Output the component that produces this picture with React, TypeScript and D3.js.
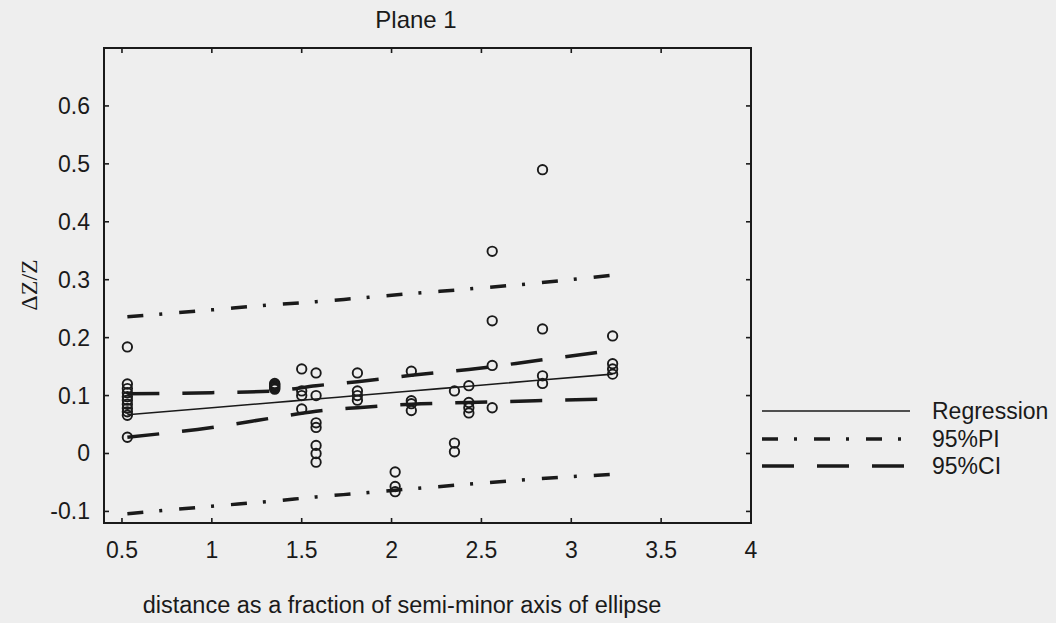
import React from "react";
import * as d3 from "d3";

// ---- data ----
const pointX: number[] = [
  0.53, 0.53, 0.53, 0.53, 0.53, 0.53, 0.53, 0.53, 0.53, 0.53, 0.53,
  1.35, 1.35, 1.35, 1.35, 1.35, 1.35,
  1.5, 1.5, 1.5, 1.5,
  1.58, 1.58, 1.58, 1.58, 1.58, 1.58, 1.58,
  1.81, 1.81, 1.81, 1.81,
  2.02, 2.02, 2.02,
  2.11, 2.11, 2.11, 2.11,
  2.35, 2.35, 2.35,
  2.43, 2.43, 2.43, 2.43,
  2.56, 2.56, 2.56, 2.56,
  2.84, 2.84, 2.84, 2.84,
  3.23, 3.23, 3.23, 3.23,
];
const pointY: number[] = [
  0.184, 0.12, 0.112, 0.105, 0.098, 0.092, 0.085, 0.078, 0.072, 0.066, 0.028,
  0.121, 0.119, 0.117, 0.115, 0.113, 0.111,
  0.146, 0.108, 0.1, 0.077,
  0.139, 0.1, 0.053, 0.045, 0.014, 0.0, -0.015,
  0.139, 0.108, 0.1, 0.092,
  -0.032, -0.057, -0.066,
  0.142, 0.091, 0.086, 0.074,
  0.108, 0.018, 0.003,
  0.117, 0.088, 0.079, 0.07,
  0.349, 0.229, 0.152, 0.079,
  0.49, 0.215, 0.134, 0.121,
  0.203, 0.155, 0.146, 0.137,
];

const lineX: number[] = [0.53, 1.0, 1.35, 1.58, 1.81, 2.11, 2.43, 2.8, 3.23];
const regression: number[] = [0.067, 0.079, 0.088, 0.094, 0.1, 0.108, 0.116, 0.126, 0.137];
const ciUpper: number[] = [0.103, 0.105, 0.108, 0.117, 0.124, 0.135, 0.145, 0.16, 0.178];
const ciLower: number[] = [0.028, 0.045, 0.062, 0.073, 0.079, 0.085, 0.088, 0.091, 0.094];
const piUpper: number[] = [0.236, 0.248, 0.257, 0.262, 0.268, 0.276, 0.284, 0.294, 0.308];
const piLower: number[] = [-0.104, -0.091, -0.082, -0.075, -0.069, -0.061, -0.053, -0.044, -0.036];

const xTicks: number[] = [0.5, 1, 1.5, 2, 2.5, 3, 3.5, 4];
const yTicks: number[] = [-0.1, 0, 0.1, 0.2, 0.3, 0.4, 0.5, 0.6];
const legendLabels: string[] = ["Regression", "95%PI", "95%CI"];

const W = 1056;
const H = 623;
const left = 104, right = 751, top = 48, bottom = 523;

export default function App() {
  const x = d3.scaleLinear().domain([0.4, 4]).range([left, right]);
  const y = d3.scaleLinear().domain([-0.12, 0.7]).range([bottom, top]);
  const line = d3
    .line<[number, number]>()
    .x((d) => x(d[0]))
    .y((d) => y(d[1]))
    .curve(d3.curveMonotoneX);
  const mk = (vals: number[]) => line(lineX.map((v, i) => [v, vals[i]] as [number, number])) || "";

  const font = "'Liberation Sans', Arial, sans-serif";
  const ink = "#1a1a1a";
  const piDash = "16 16 3 17";
  const ciDash = "32 23";
  const tick = 5;
  const legY = [411, 439, 466];
  const legStyles = [
    { w: 1.6, dash: undefined as string | undefined },
    { w: 3.5, dash: piDash },
    { w: 3.5, dash: ciDash },
  ];

  return (
    <svg
      width={W}
      height={H}
      style={{ position: "absolute", left: 0, top: 0, background: "#eeeeee" }}
    >
      <rect x={0} y={0} width={W} height={H} fill="#eeeeee" />
      {/* frame */}
      <rect x={left} y={top} width={right - left} height={bottom - top} fill="none" stroke={ink} strokeWidth={2} />
      {/* ticks */}
      {xTicks.map((t) => (
        <g key={"xt" + t}>
          <line x1={x(t)} x2={x(t)} y1={bottom} y2={bottom - tick} stroke={ink} strokeWidth={1.6} />
          <line x1={x(t)} x2={x(t)} y1={top} y2={top + tick} stroke={ink} strokeWidth={1.6} />
          <text x={x(t)} y={558} textAnchor="middle" fontFamily={font} fontSize={23} fill={ink}>
            {String(t)}
          </text>
        </g>
      ))}
      {yTicks.map((t) => (
        <g key={"yt" + t}>
          <line x1={left} x2={left + tick} y1={y(t)} y2={y(t)} stroke={ink} strokeWidth={1.6} />
          <line x1={right} x2={right - tick} y1={y(t)} y2={y(t)} stroke={ink} strokeWidth={1.6} />
          <text x={90} y={y(t) + 8} textAnchor="end" fontFamily={font} fontSize={23} fill={ink}>
            {String(Math.round(t * 10) / 10)}
          </text>
        </g>
      ))}
      {/* lines */}
      <path d={mk(piUpper)} fill="none" stroke={ink} strokeWidth={3.5} strokeDasharray={piDash} />
      <path d={mk(piLower)} fill="none" stroke={ink} strokeWidth={3.5} strokeDasharray={piDash} />
      <path d={mk(ciUpper)} fill="none" stroke={ink} strokeWidth={3.5} strokeDasharray={ciDash} />
      <path d={mk(ciLower)} fill="none" stroke={ink} strokeWidth={3.5} strokeDasharray={ciDash} />
      <path d={mk(regression)} fill="none" stroke={ink} strokeWidth={1.6} />
      {/* points */}
      {pointX.map((px, i) => (
        <circle key={"p" + i} cx={x(px)} cy={y(pointY[i])} r={4.7} fill="none" stroke={ink} strokeWidth={1.9} />
      ))}
      {/* title & labels */}
      <text x={416} y={28} textAnchor="middle" fontFamily={font} fontSize={24} fill={ink}>
        Plane 1
      </text>
      <text x={402} y={613} textAnchor="middle" fontFamily={font} fontSize={23.5} fill={ink}>
        distance as a fraction of semi-minor axis of ellipse
      </text>
      <text
        transform="translate(37,285) rotate(-90)"
        textAnchor="middle"
        fontFamily="'Liberation Serif', 'Times New Roman', serif"
        fontSize={24}
        fill={ink}
      >
        ΔZ/Z
      </text>
      {/* legend */}
      {legendLabels.map((lab, i) => (
        <g key={lab}>
          <line
            x1={762}
            x2={910}
            y1={legY[i]}
            y2={legY[i]}
            stroke={ink}
            strokeWidth={legStyles[i].w}
            strokeDasharray={legStyles[i].dash}
          />
          <text x={932} y={legY[i] + 8} fontFamily={font} fontSize={23} fill={ink}>
            {lab}
          </text>
        </g>
      ))}
    </svg>
  );
}
